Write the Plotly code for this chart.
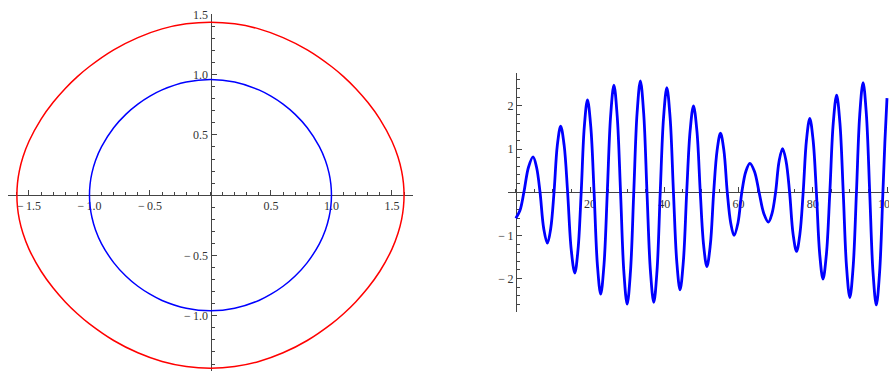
import plotly.graph_objects as go

# ---- phase portrait: two closed orbits (angle, angular velocity) ----
red_x = [0, 0.2, 0.4, 0.6, 0.8, 1.0, 1.1, 1.2, 1.3, 1.4, 1.5, 1.55, 1.58, 1.595, 1.6,
         1.595, 1.58, 1.55, 1.5, 1.4, 1.3, 1.2, 1.1, 1.0, 0.8, 0.6, 0.4, 0.2, 0,
         -0.2, -0.4, -0.6, -0.8, -1.0, -1.1, -1.2, -1.3, -1.4, -1.5, -1.55, -1.58, -1.595, -1.6,
         -1.595, -1.58, -1.55, -1.5, -1.4, -1.3, -1.2, -1.1, -1.0, -0.8, -0.6, -0.4, -0.2, 0]
red_y = [1.435, 1.421, 1.379, 1.307, 1.205, 1.067, 0.983, 0.885, 0.770, 0.631, 0.447, 0.316, 0.200, 0.100, 0,
         -0.100, -0.200, -0.316, -0.447, -0.631, -0.770, -0.885, -0.983, -1.067, -1.205, -1.307, -1.379, -1.421, -1.435,
         -1.421, -1.379, -1.307, -1.205, -1.067, -0.983, -0.885, -0.770, -0.631, -0.447, -0.316, -0.200, -0.100, 0,
         0.100, 0.200, 0.316, 0.447, 0.631, 0.770, 0.885, 0.983, 1.067, 1.205, 1.307, 1.379, 1.421, 1.435]

blue_x = [0, 0.2, 0.4, 0.5, 0.6, 0.7, 0.8, 0.9, 0.95, 0.98, 0.995, 1.0,
          0.995, 0.98, 0.95, 0.9, 0.8, 0.7, 0.6, 0.5, 0.4, 0.2, 0,
          -0.2, -0.4, -0.5, -0.6, -0.7, -0.8, -0.9, -0.95, -0.98, -0.995, -1.0,
          -0.995, -0.98, -0.95, -0.9, -0.8, -0.7, -0.6, -0.5, -0.4, -0.2, 0]
blue_y = [0.959, 0.938, 0.873, 0.821, 0.755, 0.670, 0.559, 0.403, 0.288, 0.183, 0.092, 0,
          -0.092, -0.183, -0.288, -0.403, -0.559, -0.670, -0.755, -0.821, -0.873, -0.938, -0.959,
          -0.938, -0.873, -0.821, -0.755, -0.670, -0.559, -0.403, -0.288, -0.183, -0.092, 0,
          0.092, 0.183, 0.288, 0.403, 0.559, 0.670, 0.755, 0.821, 0.873, 0.938, 0.959]

# ---- time series: sampled response (extrema, half-slope points, zero crossings) ----
t_vals = [0, 1.09, 2.18, 3.42, 4.65, 5.59, 6.53, 7.52, 8.51, 9.41, 10.30, 11.19, 12.08, 13.02,
          13.96, 14.93, 15.89, 16.76, 17.62, 18.46, 19.31, 20.20, 21.09, 21.98, 22.87, 23.76,
          24.65, 25.54, 26.43, 27.32, 28.22, 29.11, 30.00, 30.89, 31.78, 32.67, 33.56, 34.45,
          35.34, 36.26, 37.17, 38.05, 38.91, 39.80, 40.69, 41.58, 42.47, 43.36, 44.25, 45.14,
          46.04, 46.96, 47.87, 48.79, 49.70, 50.59, 51.48, 52.40, 53.31, 54.23, 55.14, 56.06,
          56.97, 57.90, 58.81, 59.85, 60.89, 61.97, 63.06, 64.30, 65.54, 66.81, 68.06, 69.03,
          69.99, 70.93, 71.87, 72.81, 73.76, 74.70, 75.64, 76.53, 77.42, 78.31, 79.20, 80.09,
          80.98, 81.87, 82.76, 83.68, 84.60, 85.52, 86.43, 87.32, 88.21, 89.10, 89.99, 90.88,
          91.77, 92.66, 93.56, 94.45, 95.34, 96.23, 97.12, 98.01, 98.90, 99.45, 100.0]
y_vals = [-0.60, -0.43, 0, 0.58, 0.82, 0.58, 0, -0.84, -1.18, -0.84, 0, 1.09, 1.53, 1.09,
          0, -1.33, -1.87, -1.33, 0, 1.52, 2.14, 1.52, 0, -1.68, -2.36, -1.68,
          0, 1.76, 2.48, 1.76, 0, -1.84, -2.59, -1.84, 0, 1.83, 2.58, 1.83,
          0, -1.81, -2.55, -1.81, 0, 1.72, 2.42, 1.72, 0, -1.60, -2.26, -1.60,
          0, 1.42, 2.00, 1.42, 0, -1.22, -1.72, -1.22, 0, 0.97, 1.37, 0.97,
          0, -0.71, -1.00, -0.71, 0, 0.48, 0.67, 0.48, 0, -0.49, -0.69, -0.49,
          0, 0.72, 1.01, 0.72, 0, -0.97, -1.37, -0.97, 0, 1.21, 1.71, 1.21,
          0, -1.43, -2.01, -1.43, 0, 1.60, 2.25, 1.60, 0, -1.73, -2.44, -1.73,
          0, 1.80, 2.54, 1.80, 0, -1.85, -2.61, -1.85, 0, 1.20, 2.18]

# ---- tick labels ----
left_x_ticks = [-1.5, -1.0, -0.5, 0.5, 1.0, 1.5]
left_x_text = ["\u2212\u20091.5", "\u2212\u20091.0", "\u2212\u20090.5", "0.5", "1.0", "1.5"]
left_y_ticks = [-1.0, -0.5, 0.5, 1.0, 1.5]
left_y_text = ["\u2212\u20091.0", "\u2212\u20090.5", "0.5", "1.0", "1.5"]
right_x_ticks = [20, 40, 60, 80, 100]
right_x_text = ["20", "40", "60", "80", "100"]
right_y_ticks = [-2, -1, 1, 2]
right_y_text = ["\u2212\u20092", "\u2212\u20091", "1", "2"]

W, H = 889, 371
FONT = dict(family="Liberation Serif, Times New Roman, serif", size=12, color="#333")
AX = "#444"

fig = go.Figure()
fig.add_trace(go.Scatter(x=red_x, y=red_y, mode="lines", line=dict(color="#ff0000", width=1.5, shape="spline", smoothing=1.0),
                         xaxis="x", yaxis="y", hoverinfo="skip"))
fig.add_trace(go.Scatter(x=blue_x, y=blue_y, mode="lines", line=dict(color="#0000ff", width=1.5, shape="spline", smoothing=1.0),
                         xaxis="x", yaxis="y", hoverinfo="skip"))
fig.add_trace(go.Scatter(x=t_vals, y=y_vals, mode="lines", line=dict(color="#0000ff", width=2.8, shape="spline", smoothing=1.0),
                         xaxis="x2", yaxis="y2", hoverinfo="skip"))

# left panel geometry (pixels)
lx0, lx1 = 8.3, 413.0
lxr = [-1.671, 1.674]
ly_top = 14.3
lyr = [-1.458, 1.5]
l_xaxis_pos = 1 - 195.0 / H
l_yaxis_pos = 210.5 / W

# right panel geometry (pixels)
rx0, rx1 = 508.3, 889.0
rxr = [-2.02, 100.54]
ry_top, ry_bot = 73.3, 312.3
ryr = [-2.78, 2.755]
r_xaxis_pos = 1 - 192.4 / H
r_yaxis_pos = 515.8 / W

common = dict(showgrid=False, zeroline=False, showline=True, linecolor=AX, linewidth=1,
              ticks="inside", tickcolor=AX, tickwidth=1, tickfont=FONT, layer="below traces",
              tickmode="array", fixedrange=True, ticklabeloverflow="allow", automargin=False)

fig.update_layout(
    width=W, height=H, margin=dict(l=0, r=0, t=0, b=0, pad=0, autoexpand=False),
    paper_bgcolor="white", plot_bgcolor="rgba(0,0,0,0)", showlegend=False,
    xaxis=dict(domain=[lx0 / W, lx1 / W], range=lxr, anchor="free", position=l_xaxis_pos, side="bottom",
               tickvals=left_x_ticks, ticktext=left_x_text, ticklen=5,
               minor=dict(dtick=0.1, tick0=0, ticklen=3, tickcolor=AX, ticks="inside"), **common),
    yaxis=dict(domain=[0, 1 - ly_top / H], range=lyr, anchor="free", position=l_yaxis_pos, side="left",
               tickvals=left_y_ticks, ticktext=left_y_text, ticklen=5,
               minor=dict(dtick=0.1, tick0=0, ticklen=3, tickcolor=AX, ticks="inside"), **common),
    xaxis2=dict(domain=[rx0 / W, rx1 / W], range=rxr, anchor="free", position=r_xaxis_pos, side="bottom",
                tickvals=right_x_ticks, ticktext=right_x_text, ticklen=5,
                minor=dict(dtick=5, tick0=0, ticklen=3, tickcolor=AX, ticks="inside"), **common),
    yaxis2=dict(domain=[1 - ry_bot / H, 1 - ry_top / H], range=ryr, anchor="free", position=r_yaxis_pos, side="left",
                tickvals=right_y_ticks, ticktext=right_y_text, ticklen=5,
                minor=dict(dtick=0.2, tick0=0, ticklen=3, tickcolor=AX, ticks="inside"), **common),
)

# keep the page exactly the figure's size: anything drawn past the edge is clipped
page_css = ("document.documentElement.style.overflow='hidden';"
            "document.body.style.overflow='hidden';"
            "document.body.style.margin='0';")
fig.write_html("out.html", post_script=page_css, config={"displayModeBar": False})
